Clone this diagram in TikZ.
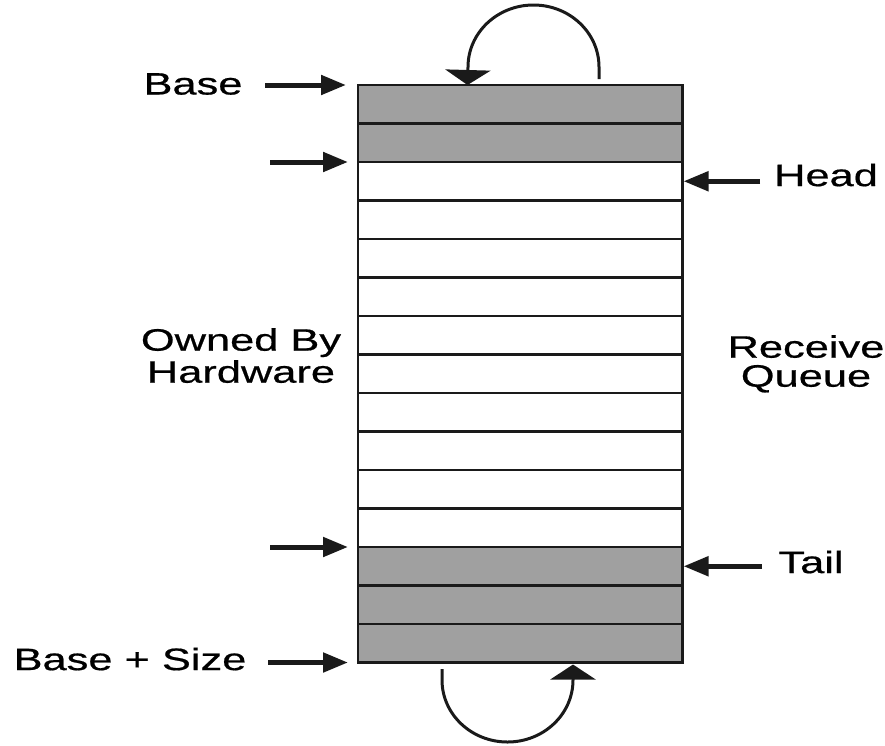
\documentclass[tikz,border=0pt]{standalone}
\usepackage{fontspec}
\newfontfamily\lab[FakeStretch=1.4,FakeBold=0.6]{Liberation Sans}
\usetikzlibrary{arrows.meta}
\definecolor{rowgray}{HTML}{A0A0A0}
\definecolor{ink}{HTML}{1A1A1A}
\tikzset{
  rowbox/.style={draw=ink, line width=2.5pt, minimum width=324.5pt, minimum height=38.5pt, inner sep=0pt, outer sep=0pt},
  lbl/.style={font=\lab\fontsize{31}{32}\selectfont, text=black, inner sep=0pt},
  ptr/.style={draw=ink, line width=5pt, -{Triangle[length=25pt,width=19pt]}},
  loop/.style={draw=ink, line width=3pt, -{Triangle[length=15pt,width=45pt]}}
}
\begin{document}
\begin{tikzpicture}[x=1pt,y=-1pt]
\useasboundingbox (0,0) rectangle (885,745);
% queue rows
\foreach \i in {1,...,15}{
  \pgfmathsetmacro{\cy}{85+38.5*(\i-0.5)}
  \ifnum\i<3 \def\fc{rowgray}\else\ifnum\i>12 \def\fc{rowgray}\else\def\fc{white}\fi\fi
  \node[rowbox, fill=\fc] (r\i) at (520.25,\cy) {};
}
% labels
\node[lbl] (base) at (193,84) {Base};
\node[lbl] (head) at (826,175) {Head};
\node[lbl] (tail) at (811,562) {Tail};
\node[lbl] (basesize) at (130,659) {Base + Size};
\node[lbl, align=center, anchor=north] (owned) at (241,328) {Owned By\\Hardware};
\node[lbl, align=center, anchor=north, font=\lab\fontsize{31}{29}\selectfont] (recv) at (806,335) {Receive\\Queue};
% pointer tails
\coordinate (pBase) at (265,85);
\coordinate (pMid) at (270,162);
\coordinate (pLow) at (270,547);
\coordinate (pSize) at (268,662.5);
\coordinate (pHead) at (760,181.25);
\coordinate (pTail) at (762,566.25);
% pointers
\draw[ptr, shorten >=12pt] (pBase) -- (r1.north west);
\draw[ptr, shorten >=10pt] (pMid) -- (r3.north west);
\draw[ptr, shorten >=10pt] (pLow) -- (r13.north west);
\draw[ptr, shorten >=10pt] (pSize) -- (r15.south west);
\draw[ptr, shorten >=1pt] (pHead) -- (r3.east);
\draw[ptr, shorten >=1pt] (pTail) -- (r13.east);
% wrap-around loops
\coordinate (topStart) at (599,79);
\coordinate (topEnd) at (467.5,85);
\draw[loop] (topStart) -- (599,67) arc[start angle=0, end angle=-180, x radius=65.5, y radius=62] -- (topEnd);
\coordinate (botStart) at (442,669);
\coordinate (botEnd) at (573,664.5);
\draw[loop] (botStart) -- (442,680) arc[start angle=180, end angle=0, x radius=65.5, y radius=62] -- (botEnd);
\end{tikzpicture}
\end{document}
